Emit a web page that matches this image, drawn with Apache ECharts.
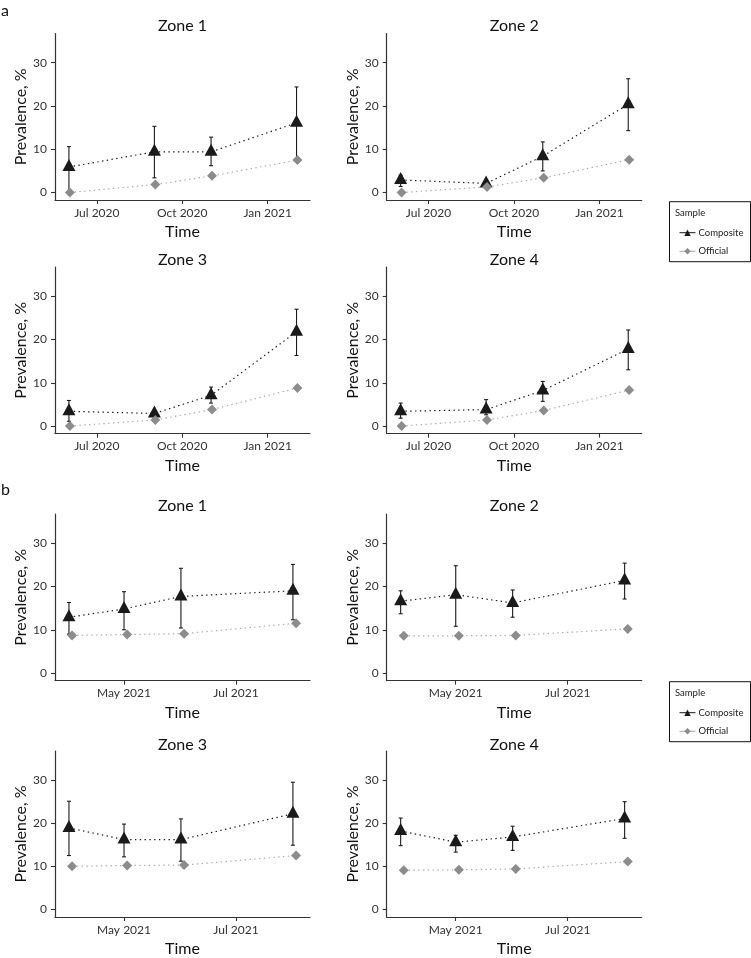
<!DOCTYPE html>
<html><head><meta charset="utf-8">
<script src="https://cdn.jsdelivr.net/npm/echarts@6/dist/echarts.min.js"></script>
<style>html,body{margin:0;padding:0;background:#fff}#c{width:751px;height:958px}</style>
</head><body><div id="c"></div>
<script>
// ---------- data ----------
const zoneNames = ['Zone 1', 'Zone 2', 'Zone 3', 'Zone 4'];
const datesA = ['2020-06-01', '2020-09-01', '2020-11-01', '2021-02-01'];
const datesB = ['2021-04-01', '2021-05-01', '2021-06-01', '2021-08-01'];
const tickDatesA = ['2020-07-01', '2020-10-01', '2021-01-01'];
const tickLabelsA = ['Jul 2020', 'Oct 2020', 'Jan 2021'];
const tickDatesB = ['2021-05-01', '2021-07-01'];
const tickLabelsB = ['May 2021', 'Jul 2021'];
const yTicks = [0, 10, 20, 30];

// panel a (per zone)
const compositeA = [
  [5.9, 9.4, 9.4, 16.1],
  [2.9, 2.1, 8.4, 20.4],
  [3.4, 2.9, 7.1, 21.8],
  [3.4, 3.8, 8.2, 17.8]
];
const compositeLowA = [
  [0.3, 3.4, 6.2, 7.8],
  [1.4, 1.2, 5.0, 14.3],
  [1.1, 1.8, 5.3, 16.3],
  [1.8, 2.6, 5.7, 13.0]
];
const compositeHighA = [
  [10.6, 15.3, 12.8, 24.4],
  [4.0, 2.9, 11.7, 26.3],
  [5.9, 3.6, 9.0, 27.0],
  [5.3, 6.1, 10.3, 22.2]
];
const officialA = [
  [0, 1.85, 3.85, 7.5],
  [0, 1.3, 3.4, 7.6],
  [0, 1.4, 3.8, 8.8],
  [0, 1.4, 3.6, 8.3]
];

// panel b (per zone)
const compositeB = [
  [12.9, 14.8, 17.7, 19.0],
  [16.6, 18.1, 16.2, 21.4],
  [18.9, 16.2, 16.2, 22.2],
  [18.2, 15.6, 16.8, 21.1]
];
const compositeLowB = [
  [9.0, 10.0, 10.4, 12.3],
  [13.7, 10.8, 12.9, 17.1],
  [12.5, 12.2, 11.2, 14.9],
  [14.8, 13.3, 13.7, 16.5]
];
const compositeHighB = [
  [16.3, 18.8, 24.2, 25.1],
  [19.0, 24.8, 19.2, 25.4],
  [25.1, 19.8, 21.0, 29.5],
  [21.2, 17.2, 19.3, 25.0]
];
const officialB = [
  [8.7, 8.9, 9.1, 11.5],
  [8.6, 8.6, 8.7, 10.2],
  [10.0, 10.2, 10.3, 12.5],
  [9.1, 9.2, 9.4, 11.1]
];

// ---------- build ----------
const FONT = 'Lato, "DejaVu Sans", sans-serif';
const DAY = 86400000;
const ts = s => new Date(s + 'T00:00:00Z').getTime();

const sets = [
  { dates: datesA, ticks: tickDatesA, labels: tickLabelsA, comp: compositeA, lo: compositeLowA, hi: compositeHighA, off: officialA,
    xmin: ts('2020-05-17'), xmax: ts('2021-02-15') + DAY / 2, dodge: 1 * DAY },
  { dates: datesB, ticks: tickDatesB, labels: tickLabelsB, comp: compositeB, lo: compositeLowB, hi: compositeHighB, off: officialB,
    xmin: ts('2021-03-24') + DAY * 0.4, xmax: ts('2021-08-10') + DAY * 0.3, dodge: 1.7 * DAY }
];

const rowTops = [33.5, 267, 514, 751];
const titleYs = [25.5, 260, 506, 745];
const lefts = [55, 386.7];
const W = 255, H = 166.6;

const grids = [], xAxes = [], yAxes = [], series = [], graphics = [];

for (let p = 0; p < 8; p++) {
  const s = sets[p < 4 ? 0 : 1];
  const z = p % 4;
  const row = Math.floor(p / 2);
  const left = lefts[z % 2];
  const top = rowTops[row];
  grids.push({ left: left, top: top, width: W, height: H, containLabel: false });
  const tickTs = s.ticks.map(ts);
  xAxes.push({
    type: 'value', gridIndex: p, min: s.xmin, max: s.xmax, scale: true,
    axisLine: { show: true, onZero: false, lineStyle: { color: '#333', width: 1.2 } },
    axisTick: { show: true, length: 4, customValues: tickTs, lineStyle: { color: '#333', width: 1.1 } },
    axisLabel: {
      show: true, customValues: tickTs, margin: 7, fontSize: 12, color: '#333', fontFamily: FONT,
      formatter: v => { const i = tickTs.indexOf(v); return i >= 0 ? s.labels[i] : ''; }
    },
    splitLine: { show: false }, minorTick: { show: false },
    name: 'Time', nameLocation: 'middle', nameGap: 24,
    nameTextStyle: { fontSize: 16, color: '#111', fontFamily: FONT }
  });
  yAxes.push({
    type: 'value', gridIndex: p, min: -1.75, max: 36.75,
    axisLine: { show: true, lineStyle: { color: '#333', width: 1.2 } },
    axisTick: { show: true, length: 4, customValues: yTicks, lineStyle: { color: '#333', width: 1.1 } },
    axisLabel: { show: true, customValues: yTicks, margin: 8, fontSize: 12, color: '#333', fontFamily: FONT },
    splitLine: { show: false },
    name: 'Prevalence, %', nameLocation: 'middle', nameGap: 22, nameRotate: 90,
    nameTextStyle: { fontSize: 16, color: '#111', fontFamily: FONT }
  });

  const dts = s.dates.map(ts);
  series.push({
    type: 'custom', name: 'err', xAxisIndex: p, yAxisIndex: p, z: 1, silent: true,
    data: dts.map((d, i) => [d, s.lo[z][i], s.hi[z][i]]),
    encode: { x: 0, y: [1, 2] },
    renderItem: (params, api) => {
      const x = api.value(0);
      const a = api.coord([x, api.value(2)]);
      const b = api.coord([x, api.value(1)]);
      const w = 2;
      const st = { stroke: '#1a1a1a', lineWidth: 1.1 };
      return { type: 'group', children: [
        { type: 'line', shape: { x1: a[0], y1: a[1], x2: b[0], y2: b[1] }, style: st },
        { type: 'line', shape: { x1: a[0] - w, y1: a[1], x2: a[0] + w, y2: a[1] }, style: st },
        { type: 'line', shape: { x1: b[0] - w, y1: b[1], x2: b[0] + w, y2: b[1] }, style: st }
      ] };
    }
  });
  series.push({
    type: 'line', name: 'Composite', xAxisIndex: p, yAxisIndex: p, z: 2,
    data: dts.map((d, i) => [d, s.comp[z][i]]),
    symbol: 'triangle', symbolSize: [13, 12], symbolOffset: [0, -2],
    itemStyle: { color: '#1a1a1a' },
    lineStyle: { color: '#1a1a1a', width: 1.2, type: [1.4, 3.4] },
    silent: true
  });
  series.push({
    type: 'line', name: 'Official', xAxisIndex: p, yAxisIndex: p, z: 3,
    data: dts.map((d, i) => [d + s.dodge, s.off[z][i]]),
    symbol: 'diamond', symbolSize: [10, 10],
    itemStyle: { color: '#8c8c8c' },
    lineStyle: { color: '#ababab', width: 1.2, type: [1.4, 3.4] },
    silent: true
  });

  graphics.push({
    type: 'text', x: left + W / 2, y: titleYs[row],
    style: { text: zoneNames[z], align: 'center', verticalAlign: 'middle', fontSize: 16, fontFamily: FONT, fill: '#111' }
  });
}

// panel letters
graphics.push({ type: 'text', x: 1, y: 11, style: { text: 'a', verticalAlign: 'middle', fontSize: 16, fontFamily: FONT, fill: '#111' } });
graphics.push({ type: 'text', x: 1, y: 490, style: { text: 'b', verticalAlign: 'middle', fontSize: 16, fontFamily: FONT, fill: '#111' } });

// legend boxes and titles
const legendOffsets = [0, 480];
legendOffsets.forEach(o => {
  graphics.push({ type: 'rect', shape: { x: 669.5, y: 201.7 + o, width: 81, height: 60 },
    style: { fill: 'none', stroke: '#111', lineWidth: 1 } });
  graphics.push({ type: 'text', x: 675, y: 213 + o,
    style: { text: 'Sample', verticalAlign: 'middle', fontSize: 9.5, fontFamily: FONT, fill: '#222' } });
});

const legends = legendOffsets.map(o => ({
  orient: 'vertical', left: 679, top: 227.7 + o, padding: 0,
  itemWidth: 16, itemHeight: 8, itemGap: 8.6,
  data: ['Composite', 'Official'],
  selectedMode: false,
  lineStyle: { type: 'solid', width: 1 },
  textStyle: { fontSize: 9.5, fontFamily: FONT, color: '#222', padding: [0, 0, 0, -2] }
}));

const chart = echarts.init(document.getElementById('c'), null, { renderer: 'canvas' });
chart.setOption({
  animation: false,
  backgroundColor: '#fff',
  grid: grids, xAxis: xAxes, yAxis: yAxes, series: series,
  legend: legends,
  graphic: { elements: graphics }
});
</script>
</body></html>
